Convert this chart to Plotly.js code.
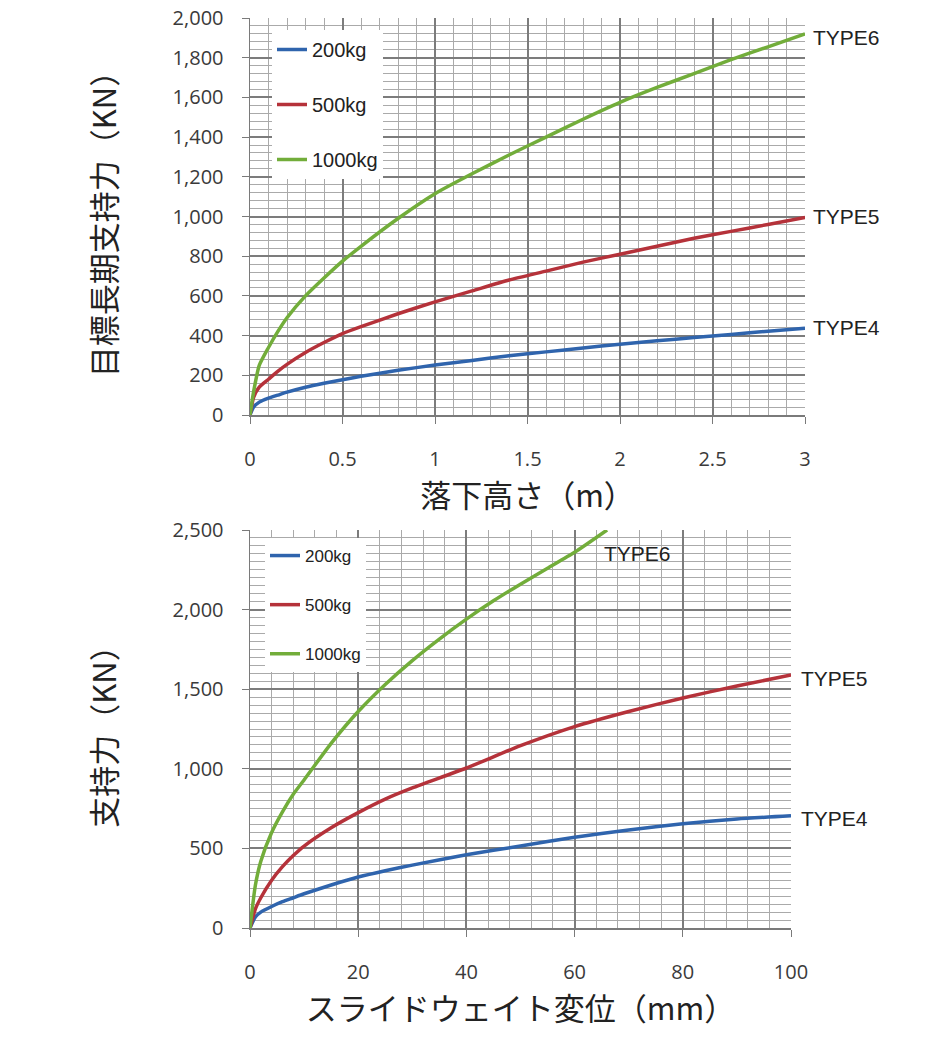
<!DOCTYPE html>
<html>
<head>
<meta charset="utf-8">
<script src="https://cdn.plot.ly/plotly-3.0.1.min.js"></script>
<style>
  body { margin: 0; background: #fff; }
  #chart { width: 935px; height: 1049px; }
</style>
</head>
<body>
<div id="chart"></div>
<script>
// 上段: 落下高さ(m) vs 目標長期支持力(KN)
var drop_x = [0, 0.02, 0.05, 0.1, 0.15, 0.2, 0.3, 0.4, 0.5, 0.6, 0.8, 1.0, 1.2, 1.4, 1.6, 1.8, 2.0, 2.2, 2.4, 2.6, 2.8, 3.0]
var drop_200 = [0, 40, 65, 85, 100, 115, 140, 160, 178, 195, 225, 252, 275, 298, 318, 338, 357, 374, 390, 406, 422, 437]
var drop_500 = [0, 90, 140, 180, 220, 255, 315, 365, 410, 445, 510, 570, 625, 680, 725, 770, 810, 850, 890, 925, 960, 995]
var drop_1000 = [0, 120, 250, 340, 420, 490, 600, 690, 775, 850, 990, 1115, 1215, 1310, 1400, 1490, 1575, 1650, 1720, 1790, 1855, 1920]

// 下段: スライドウェイト変位(mm) vs 支持力(KN)
var slide_x = [0, 1, 2, 4, 6, 8, 10, 15, 20, 25, 30, 40, 50, 60, 70, 80, 90, 100]
var slide_200 = [0, 70, 100, 135, 165, 190, 215, 270, 320, 360, 395, 460, 515, 570, 615, 655, 685, 705]
var slide_500 = [0, 120, 190, 300, 385, 455, 515, 630, 725, 810, 880, 1005, 1145, 1265, 1360, 1445, 1520, 1590]
var slide_1000_x = [0, 1, 2, 4, 6, 8, 10, 15, 20, 25, 30, 35, 40, 45, 50, 55, 60, 66]
var slide_1000 = [0, 270, 420, 600, 730, 840, 930, 1160, 1360, 1530, 1680, 1815, 1940, 2055, 2160, 2260, 2360, 2500]

var names = ['200kg', '500kg', '1000kg']
var colors = ['#2f64ad', '#b5323a', '#72ad3a']

var tickFont = { family: 'Open Sans, Liberation Sans, sans-serif', size: 20, color: '#3a3a3a' }
var titleFont = { family: 'Noto Sans CJK JP, sans-serif', size: 31, color: '#222' }
var typeFont = { family: 'Liberation Sans, sans-serif', size: 21, color: '#222' }

var data = []
var topY = [drop_200, drop_500, drop_1000]
for (var i = 0; i < 3; i++) {
  data.push({
    x: drop_x, y: topY[i], name: names[i], mode: 'lines',
    line: { color: colors[i], width: 3.5, shape: 'spline', smoothing: 0.6 },
    xaxis: 'x', yaxis: 'y', legend: 'legend', legendgroup: 'a' + i
  })
}
var botX = [slide_x, slide_x, slide_1000_x]
var botY = [slide_200, slide_500, slide_1000]
for (var i = 0; i < 3; i++) {
  data.push({
    x: botX[i], y: botY[i], name: names[i], mode: 'lines',
    line: { color: colors[i], width: 3.5, shape: 'spline', smoothing: 0.6 },
    xaxis: 'x2', yaxis: 'y2', legend: 'legend2', legendgroup: 'b' + i
  })
}

// minor grid positions, skipping the major ones
function minorVals(max, step, per) {
  var v = []
  for (var k = 1; k * step <= max + 1e-9; k++) {
    if (k % per !== 0) v.push(Math.round(k * step * 1000) / 1000)
  }
  return v
}

function gridAxis(extra) {
  var base = {
    showgrid: true, gridcolor: '#7c7c7c', gridwidth: 2,
    showline: true, linecolor: '#7a7a7a', linewidth: 1.5,
    zeroline: false, ticks: 'outside', ticklen: 7, tickcolor: '#7a7a7a',
    tickfont: tickFont, fixedrange: true
  }
  for (var k in extra) base[k] = extra[k]
  return base
}

function minorGrid(max, step, per) {
  return { tickmode: 'array', tickvals: minorVals(max, step, per), showgrid: true, gridcolor: '#aaaaaa', gridwidth: 1, ticks: '' }
}

var layout = {
  width: 935, height: 1049,
  margin: { l: 0, r: 0, t: 0, b: 0 },
  paper_bgcolor: '#fff', plot_bgcolor: '#fff',
  showlegend: true,
  xaxis: gridAxis({
    domain: [250 / 935, 805 / 935], anchor: 'y', range: [0, 3], dtick: 0.5,
    minor: minorGrid(3, 0.1, 5),
    ticklabelstandoff: 18,
    title: { text: '落下高さ（m）', font: titleFont, standoff: 10 }
  }),
  yaxis: gridAxis({
    domain: [1 - 415 / 1049, 1 - 18 / 1049], anchor: 'x', range: [0, 2000], dtick: 200,
    tickformat: ',',
    minor: minorGrid(2000, 40, 5),
    ticklabelstandoff: 14,
    title: { text: '目標長期支持力（KN）', font: titleFont, standoff: 46 }
  }),
  xaxis2: gridAxis({
    domain: [250 / 935, 791 / 935], anchor: 'y2', range: [0, 100], dtick: 20,
    minor: minorGrid(100, 4, 5),
    ticklabelstandoff: 18,
    title: { text: 'スライドウェイト変位（mm）', font: titleFont, standoff: 10 }
  }),
  yaxis2: gridAxis({
    domain: [1 - 928 / 1049, 1 - 530 / 1049], anchor: 'x2', range: [0, 2500], dtick: 500,
    tickformat: ',',
    minor: minorGrid(2500, 50, 10),
    ticklabelstandoff: 14,
    title: { text: '支持力（KN）', font: titleFont, standoff: 46 }
  }),
  legend: {
    x: 272 / 935, y: 1 - 30 / 1049, xanchor: 'left', yanchor: 'top',
    bgcolor: '#fff', borderwidth: 0, traceorder: 'grouped', tracegroupgap: 26,
    font: { family: 'Liberation Sans, sans-serif', size: 20, color: '#222' }
  },
  legend2: {
    x: 265 / 935, y: 1 - 538 / 1049, xanchor: 'left', yanchor: 'top',
    bgcolor: '#fff', borderwidth: 0, traceorder: 'grouped', tracegroupgap: 24,
    font: { family: 'Liberation Sans Narrow, Liberation Sans, sans-serif', size: 17, color: '#222' }
  },
  annotations: [
    { xref: 'x', yref: 'y', x: 3, y: 1920, text: 'TYPE6', xanchor: 'left', xshift: 6, yshift: -4, showarrow: false, font: typeFont },
    { xref: 'x', yref: 'y', x: 3, y: 1000, text: 'TYPE5', xanchor: 'left', xshift: 6, showarrow: false, font: typeFont },
    { xref: 'x', yref: 'y', x: 3, y: 440, text: 'TYPE4', xanchor: 'left', xshift: 6, showarrow: false, font: typeFont },
    { xref: 'x2', yref: 'y2', x: 65, y: 2355, text: 'TYPE6', xanchor: 'left', showarrow: false, font: typeFont },
    { xref: 'x2', yref: 'y2', x: 100, y: 1565, text: 'TYPE5', xanchor: 'left', xshift: 8, showarrow: false, font: typeFont },
    { xref: 'x2', yref: 'y2', x: 100, y: 690, text: 'TYPE4', xanchor: 'left', xshift: 8, showarrow: false, font: typeFont }
  ]
}

Plotly.newPlot('chart', data, layout, { displayModeBar: false, staticPlot: true })
</script>
</body>
</html>
